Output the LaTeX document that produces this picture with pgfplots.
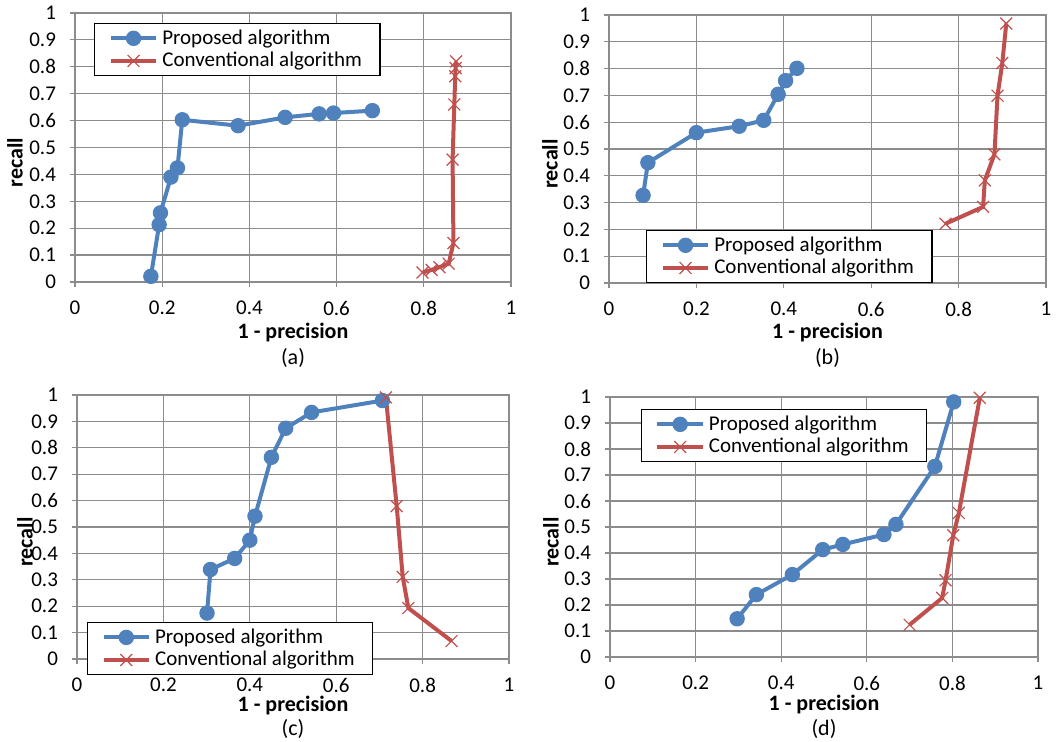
\documentclass[border=0pt]{standalone}
\usepackage{fontspec}
\setmainfont{Carlito}
\usepackage{pgfplots}
\pgfplotsset{compat=1.18}

\definecolor{blueE}{HTML}{4F81BD}
\definecolor{redE}{HTML}{C0504D}
\definecolor{gridE}{HTML}{8C8C8C}

\pgfplotsset{
  panel/.style={
    scale only axis, clip=false,
    xmin=0, xmax=1, ymin=0, ymax=1,
    xtick={0,0.2,0.4,0.6,0.8,1},
    ytick={0,0.1,0.2,0.3,0.4,0.5,0.6,0.7,0.8,0.9,1},
    grid=major, grid style={draw=gridE, line width=0.6pt},
    axis line style={draw=gridE, line width=0.6pt},
    tick style={draw=gridE, line width=0.6pt},
    tick align=outside, tick pos=left, major tick length=2.5pt,
    ticklabel style={font=\fontsize{10.5}{12}\selectfont},
    xticklabel style={yshift=-3.5pt},
    yticklabel style={xshift=-3.5pt},
    /pgf/number format/assume math mode=true,
    /pgf/number format/fixed, /pgf/number format/precision=1,
    legend cell align=left,
    legend style={draw=black, line width=0.6pt, font=\fontsize{10.5}{12}\selectfont,
      inner xsep=7pt, inner ysep=1pt, row sep=-1.5pt},
    legend image code/.code={
      \draw[mark repeat=2, mark phase=2]
        plot coordinates {(0cm,0cm) (0.4cm,0cm) (0.8cm,0cm)};},
  },
  prop/.style={color=blueE, line width=2pt, mark=*, mark size=3.6pt,
    mark options={solid, fill=blueE, line width=0.5pt}},
  conv/.style={color=redE, line width=2pt, mark=x, mark size=4.2pt,
    mark options={solid, line width=0.6pt}},
}

\newcommand{\labels}[5]{%
  \node[rotate=90, font=\fontsize{11}{13}\selectfont\bfseries]
    at ([shift={(#2,-7.5pt)}]#1.west) {recall};
  \node[font=\fontsize{11}{13}\selectfont\bfseries]
    at ([yshift=#3]#1.south) {1 - precision};
  \node[font=\fontsize{11}{13}\selectfont]
    at ([yshift=#4]#1.south) {(#5)};
}

\begin{document}
\begin{tikzpicture}
\useasboundingbox (0,0) rectangle (529pt,-371pt);

% (a)
\begin{axis}[panel, name=pa, at={(37.5pt,-6.5pt)}, anchor=north west,
  width=218pt, height=134.5pt,
  legend style={at={(0.044,0.963)}, anchor=north west}]
\addplot[prop] coordinates {
  (0.174,0.021) (0.193,0.213) (0.196,0.257) (0.220,0.390) (0.235,0.424)
  (0.246,0.603) (0.374,0.581) (0.482,0.612) (0.560,0.625) (0.593,0.628)
  (0.682,0.637)};
\addplot[conv] coordinates {
  (0.797,0.035) (0.818,0.045) (0.836,0.055) (0.857,0.068) (0.868,0.145)
  (0.866,0.455) (0.870,0.660) (0.872,0.765) (0.873,0.795) (0.874,0.820)};
\legend{Proposed algorithm, Conventional algorithm}
\end{axis}
\labels{pa}{-30pt}{-25.5pt}{-38pt}{a}

% (b)
\begin{axis}[panel, name=pb, at={(304.5pt,-7.5pt)}, anchor=north west,
  width=218.5pt, height=134pt,
  legend style={at={(0.085,0.198)}, anchor=north west}]
\addplot[prop] coordinates {
  (0.078,0.327) (0.089,0.449) (0.200,0.561) (0.298,0.585) (0.354,0.607)
  (0.387,0.704) (0.404,0.755) (0.430,0.801)};
\addplot[conv] coordinates {
  (0.770,0.221) (0.856,0.284) (0.860,0.383) (0.882,0.480) (0.889,0.699)
  (0.900,0.821) (0.909,0.968)};
\legend{Proposed algorithm, Conventional algorithm}
\end{axis}
\labels{pb}{-29.5pt}{-25pt}{-37.5pt}{b}

% (c)
\begin{axis}[panel, name=pc, at={(38.5pt,-197.5pt)}, anchor=north west,
  width=216pt, height=132pt,
  legend style={at={(0.023,0.140)}, anchor=north west}]
\addplot[prop] coordinates {
  (0.301,0.174) (0.309,0.339) (0.365,0.381) (0.400,0.450) (0.412,0.541)
  (0.450,0.764) (0.483,0.874) (0.543,0.934) (0.707,0.979)};
\addplot[conv] coordinates {
  (0.715,0.991) (0.740,0.579) (0.754,0.311) (0.767,0.193) (0.867,0.068)};
\legend{Proposed algorithm, Conventional algorithm}
\end{axis}
\labels{pc}{-26pt}{-23.5pt}{-35pt}{c}

% (d)
\begin{axis}[panel, name=pd, at={(305pt,-198.5pt)}, anchor=north west,
  width=214pt, height=130pt,
  legend style={at={(0.072,0.954)}, anchor=north west}]
\addplot[prop] coordinates {
  (0.297,0.147) (0.342,0.240) (0.426,0.317) (0.497,0.413) (0.544,0.433)
  (0.640,0.471) (0.668,0.510) (0.759,0.733) (0.803,0.981)};
\addplot[conv] coordinates {
  (0.700,0.124) (0.776,0.227) (0.784,0.295) (0.802,0.468) (0.815,0.554)
  (0.864,0.997)};
\legend{Proposed algorithm, Conventional algorithm}
\end{axis}
\labels{pd}{-29.5pt}{-24pt}{-36pt}{d}
\end{tikzpicture}
\end{document}
